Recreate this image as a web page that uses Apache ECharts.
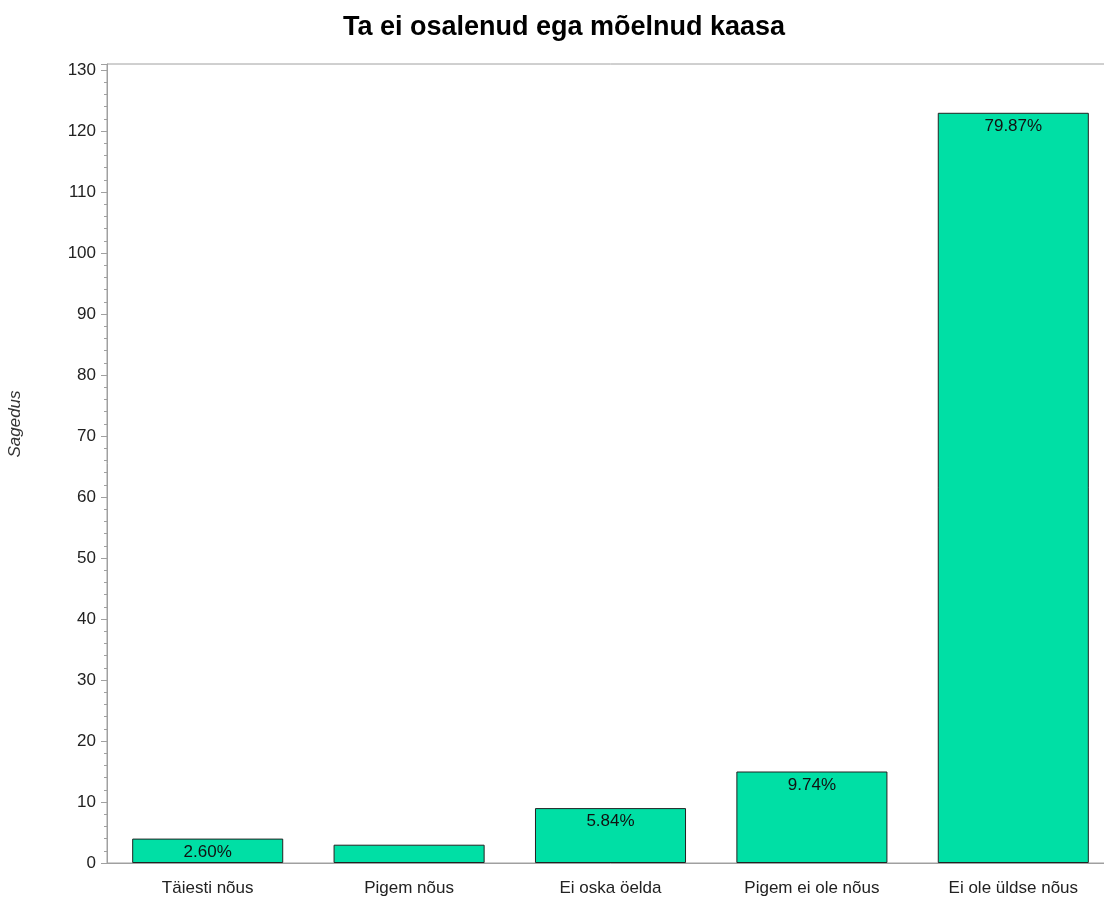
<!DOCTYPE html>
<html><head><meta charset="utf-8">
<script src="https://cdn.jsdelivr.net/npm/echarts@6/dist/echarts.min.js"></script>
<style>html,body{margin:0;padding:0;background:#fff;overflow:hidden;width:1104px;height:899px}#c{width:1114px;height:899px}</style>
</head><body><div id="c"></div>
<script>
const categories = ['Täiesti nõus', 'Pigem nõus', 'Ei oska öelda', 'Pigem ei ole nõus', 'Ei ole üldse nõus'];
const counts = [4, 3, 9, 15, 123];
const percentLabels = ['2.60%', '', '5.84%', '9.74%', '79.87%'];
const yTicks = [0, 10, 20, 30, 40, 50, 60, 70, 80, 90, 100, 110, 120, 130];
const titleText = 'Ta ei osalenud ega mõelnud kaasa';
const yName = 'Sagedus';

const chart = echarts.init(document.getElementById('c'));
const font = 'Liberation Sans';
chart.setOption({
  animation: false,
  title: {
    text: titleText, left: 559, top: 9, textAlign: 'center',
    textStyle: {fontFamily: font, fontSize: 27, fontWeight: 'bold', color: '#000'}
  },
  graphic: [{
    type: 'text', x: 15, y: 424, rotation: Math.PI / 2,
    style: {text: yName, fontFamily: font, fontSize: 17, fontStyle: 'italic', fill: '#333', align: 'center', verticalAlign: 'middle'}
  }],
  grid: {left: 107, right: 0, top: 64, bottom: 36, show: true, borderColor: '#a0a0a0', borderWidth: 1, backgroundColor: 'transparent', outerBoundsMode: 'none'},
  xAxis: {
    type: 'category', data: categories,
    axisLine: {lineStyle: {color: '#a0a0a0'}},
    axisTick: {show: false},
    axisLabel: {fontFamily: font, fontSize: 17, color: '#222', margin: 17}
  },
  yAxis: {
    type: 'value', min: 0, max: 131, interval: 10,
    axisLine: {show: true, lineStyle: {color: '#a0a0a0'}},
    axisTick: {show: true, length: 6, lineStyle: {color: '#a0a0a0'}},
    minorTick: {show: true, splitNumber: 5, length: 3, lineStyle: {color: '#a0a0a0'}},
    splitLine: {show: false},
    axisLabel: {fontFamily: font, fontSize: 17, color: '#222', margin: 11,
      formatter: v => yTicks.includes(v) ? String(v) : ''}
  },
  series: [{
    type: 'bar', data: counts, barWidth: '75%',
    itemStyle: {color: '#00dfa5', borderColor: '#222', borderWidth: 1},
    label: {show: true, position: 'insideTop', distance: 5, fontFamily: font, fontSize: 17, color: '#111',
      formatter: p => percentLabels[p.dataIndex]}
  }]
});
</script></body></html>
